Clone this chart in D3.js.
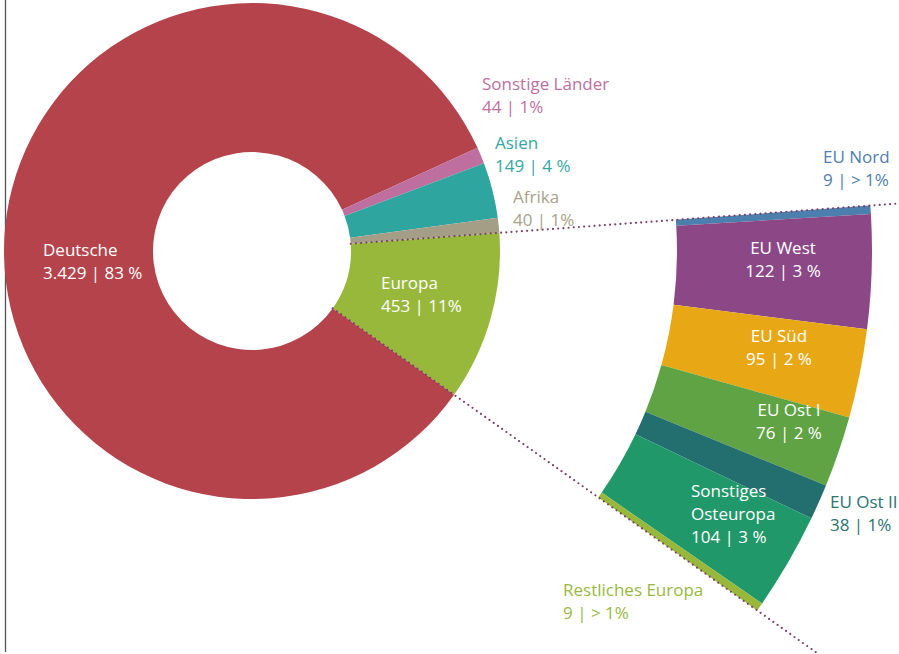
<!DOCTYPE html>
<html>
<head>
<meta charset="utf-8">
<script src="https://cdn.jsdelivr.net/npm/d3@7/dist/d3.min.js"></script>
<style>
  html, body { margin: 0; padding: 0; background: #fff; }
  svg { display: block; }
  text { font-family: "Open Sans", "Noto Sans", sans-serif; font-size: 17px; }
</style>
</head>
<body>
<svg id="chart" width="899" height="654"></svg>
<script>
// Main ring: population by origin
const mainNames  = ["Europa", "Deutsche", "Sonstige Länder", "Asien", "Afrika"];
const mainValues = [453, 3429, 44, 149, 40];
const mainShares = ["11%", "83 %", "1%", "4 %", "1%"];

// Breakout ring: the European part split into regions
const euNames  = ["EU Nord", "EU West", "EU Süd", "EU Ost I", "EU Ost II", "Sonstiges Osteuropa", "Restliches Europa"];
const euValues = [9, 122, 95, 76, 38, 104, 9];
const euShares = ["> 1%", "3 %", "2 %", "2 %", "1%", "3 %", "> 1%"];

const fmt = d3.format(",");
const de = v => fmt(v).replace(/,/g, ".");

const mainColors = {
  "Europa": "#98b83c", "Deutsche": "#b5434b", "Sonstige Länder": "#be6e9f",
  "Asien": "#2ea59e", "Afrika": "#a49e86"
};
const euColors = {
  "EU Nord": "#4a7fae", "EU West": "#8c4886", "EU Süd": "#e8a816",
  "EU Ost I": "#5fa344", "EU Ost II": "#236f6f", "Sonstiges Osteuropa": "#219869",
  "Restliches Europa": "#98b83c"
};

// label placement (x, first baseline, anchor, colour)
const labelLayout = {
  "Deutsche":            { x: 43,  y: 256, anchor: "start",  color: "#ffffff" },
  "Europa":              { x: 381, y: 289, anchor: "start",  color: "#ffffff" },
  "Sonstige Länder":     { x: 482, y: 90,  anchor: "start",  color: "#c0709e" },
  "Asien":               { x: 495, y: 149, anchor: "start",  color: "#35a6a2" },
  "Afrika":              { x: 513, y: 203, anchor: "start",  color: "#a8a28a" },
  "EU Nord":             { x: 823, y: 163, anchor: "start",  color: "#4f80ad" },
  "EU West":             { x: 783, y: 254, anchor: "middle", color: "#ffffff" },
  "EU Süd":              { x: 779, y: 342, anchor: "middle", color: "#ffffff" },
  "EU Ost I":            { x: 789, y: 416, anchor: "middle", color: "#ffffff" },
  "EU Ost II":           { x: 830, y: 508, anchor: "start",  color: "#2b7271" },
  "Sonstiges Osteuropa": { x: 691, y: 497, anchor: "start",  color: "#ffffff", lines: ["Sonstiges", "Osteuropa"] },
  "Restliches Europa":   { x: 563, y: 596, anchor: "start",  color: "#98b93f" }
};

const svg = d3.select("#chart");
const cx = 252, cy = 251;
const deg = Math.PI / 180;
const startA = 85.8 * deg;

// page rule on the left
svg.append("line")
  .attr("x1", 5.5).attr("x2", 5.5).attr("y1", 0).attr("y2", 652)
  .attr("stroke", "#555").attr("stroke-width", 1.3);

const g = svg.append("g").attr("transform", `translate(${cx},${cy})`);

const mainData = mainNames.map((n, i) => ({ name: n, value: mainValues[i], share: mainShares[i] }));
const pieMain = d3.pie().sort(null).value(d => d.value)
  .startAngle(startA).endAngle(startA + 2 * Math.PI);
const mainArcs = pieMain(mainData);
const arcMain = d3.arc().innerRadius(99).outerRadius(248);

g.selectAll("path.main").data(mainArcs).join("path")
  .attr("class", "main")
  .attr("d", arcMain)
  .attr("fill", d => mainColors[d.data.name]);

// breakout of Europa with the same angular span
const eu = mainArcs[0];
const euData = euNames.map((n, i) => ({ name: n, value: euValues[i], share: euShares[i] }));
const pieEu = d3.pie().sort(null).value(d => d.value)
  .startAngle(eu.startAngle).endAngle(eu.endAngle);
const euArcs = pieEu(euData);
const arcEu = d3.arc().innerRadius(425).outerRadius(620);

g.selectAll("path.eu").data(euArcs).join("path")
  .attr("class", "eu")
  .attr("d", arcEu)
  .attr("fill", d => euColors[d.data.name]);

// dotted connectors along the Europa edges
[eu.startAngle, eu.endAngle].forEach(a => {
  const r0 = 99, r1 = 760;
  g.append("line")
    .attr("x1", r0 * Math.sin(a)).attr("y1", -r0 * Math.cos(a))
    .attr("x2", r1 * Math.sin(a)).attr("y2", -r1 * Math.cos(a))
    .attr("stroke", "#7c3f6a").attr("stroke-width", 2.2)
    .attr("stroke-linecap", "round").attr("stroke-dasharray", "0 5.2");
});

// labels
const allLabels = mainData.concat(euData);
allLabels.forEach(d => {
  const L = labelLayout[d.name];
  const lines = (L.lines || [d.name]).concat([`${de(d.value)} | ${d.share}`]);
  const t = svg.append("text")
    .attr("x", L.x).attr("y", L.y)
    .attr("text-anchor", L.anchor)
    .attr("fill", L.color);
  lines.forEach((s, i) => {
    t.append("tspan").attr("x", L.x).attr("dy", i === 0 ? 0 : 23).text(s);
  });
});
</script>
</body>
</html>
